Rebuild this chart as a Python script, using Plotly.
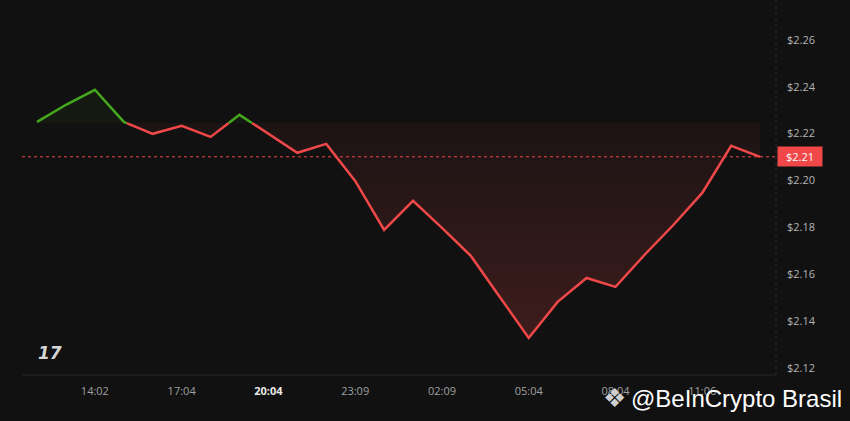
import plotly.graph_objects as go

times = ["12:02","13:02","14:02","15:03","16:03","17:04","18:04","19:04","20:04","21:05",
         "22:07","23:09","00:09","01:09","02:09","03:07","04:05","05:04","06:04","07:04",
         "08:04","09:05","10:05","11:06","12:06","13:06"]
prices = [2.2250, 2.2323, 2.2387, 2.2250, 2.2199, 2.2233, 2.2186, 2.2280, 2.2199, 2.2118,
          2.2156, 2.1998, 2.1789, 2.1913, 2.1798, 2.1678, 2.1503, 2.1328, 2.1482, 2.1584,
          2.1546, 2.1682, 2.1810, 2.1947, 2.2148, 2.2101]
baseline = 2.2245
last_price = 2.2101
tick_idx = [2, 5, 8, 11, 14, 17, 20, 23]
y_ticks = [2.12, 2.14, 2.16, 2.18, 2.20, 2.22, 2.24, 2.26]

# densify with baseline crossings so fills/colours split cleanly
xs, ys = [], []
for i, v in enumerate(prices):
    if i > 0:
        p = prices[i - 1]
        if (p - baseline) * (v - baseline) < 0:
            t = (baseline - p) / (v - p)
            xs.append(i - 1 + t)
            ys.append(baseline)
    xs.append(i)
    ys.append(v)

up = [y if y >= baseline else None for y in ys]
dn = [y if y <= baseline else None for y in ys]
up_fill = [max(y, baseline) for y in ys]
dn_fill = [min(y, baseline) for y in ys]

RED = "#f04848"
GREEN = "#45a81c"
BG = "#111111"

fig = go.Figure()
fig.add_trace(go.Scatter(x=xs, y=[baseline] * len(xs), mode="lines",
                         line=dict(width=0), hoverinfo="skip", showlegend=False))
fig.add_trace(go.Scatter(x=xs, y=dn_fill, mode="lines", line=dict(width=0),
                         fill="tonexty",
                         fillgradient=dict(type="vertical",
                                           colorscale=[[0, "rgba(240,72,72,0.20)"],
                                                       [1, "rgba(240,72,72,0.05)"]],
                                           start=min(prices), stop=baseline),
                         hoverinfo="skip", showlegend=False))
fig.add_trace(go.Scatter(x=xs, y=[baseline] * len(xs), mode="lines",
                         line=dict(width=0), hoverinfo="skip", showlegend=False))
fig.add_trace(go.Scatter(x=xs, y=up_fill, mode="lines", line=dict(width=0),
                         fill="tonexty", fillcolor="rgba(69,168,28,0.06)",
                         hoverinfo="skip", showlegend=False))
fig.add_trace(go.Scatter(x=xs, y=dn, mode="lines", line=dict(color=RED, width=2.5),
                         connectgaps=False, showlegend=False))
fig.add_trace(go.Scatter(x=xs, y=up, mode="lines", line=dict(color=GREEN, width=2.5),
                         connectgaps=False, showlegend=False))

fig.add_shape(type="line", xref="paper", x0=0, x1=1, yref="y", y0=last_price, y1=last_price,
              line=dict(color=RED, width=1, dash="dot"), layer="below")
fig.add_shape(type="line", xref="paper", x0=1, x1=1, yref="paper", y0=0, y1=1,
              line=dict(color="#2a2a2a", width=1, dash="dot"))
fig.add_shape(type="line", xref="paper", x0=0, x1=1, yref="paper", y0=0, y1=0,
              line=dict(color="#262626", width=1))

ticktext = []
for i in tick_idx:
    if times[i] == "20:04":
        ticktext.append('<b><span style="color:#e8e8e8">20:04</span></b>')
    else:
        ticktext.append(times[i])

fig.update_layout(
    width=850, height=421,
    paper_bgcolor=BG, plot_bgcolor=BG,
    margin=dict(l=22, r=74, t=0, b=46),
    font=dict(family="Open Sans", color="#a8a8a8", size=11),
    xaxis=dict(range=[-0.52, 25.55], tickvals=tick_idx, ticktext=ticktext,
               showgrid=False, zeroline=False, showline=False, ticks="",
               ticklabelstandoff=8, tickfont=dict(size=11, color="#a0a0a0")),
    yaxis=dict(range=[2.117, 2.277], side="right", tickvals=y_ticks,
               ticktext=[f"${v:.2f}" for v in y_ticks],
               showgrid=False, zeroline=False, showline=False, ticks="",
               ticklabelstandoff=10, tickfont=dict(size=11, color="#b4b4b4")),
    annotations=[
        dict(xref="paper", x=1, xanchor="left", xshift=1, yref="y", y=last_price,
             text="$2.21", showarrow=False, bgcolor=RED, borderpad=2,
             font=dict(color="#ffffff", size=11, family="Open Sans"), width=40),
        dict(xref="paper", x=0.018, xanchor="left", yref="paper", y=0.06, yanchor="middle",
             text="<b><i>17</i></b>", showarrow=False,
             font=dict(color="#d6d6d6", size=17, family="DejaVu Sans")),
        dict(xref="paper", x=1.0, xanchor="right", xshift=68, yref="paper", y=-0.062,
             yanchor="middle", text="@BeInCrypto Brasil", showarrow=False,
             font=dict(color="#ffffff", size=24,
                       family="Liberation Sans Narrow, Liberation Sans")),
        dict(xref="paper", x=1.0, xanchor="right", xshift=-148, yref="paper", y=-0.062,
             yanchor="middle", text="❖", showarrow=False,
             font=dict(color="#cfcfcf", size=26, family="DejaVu Sans")),
    ],
)

fig.write_html("out.html", config={"displayModeBar": False},
               post_script="document.body.style.margin='0';document.body.style.background='#111111';")
